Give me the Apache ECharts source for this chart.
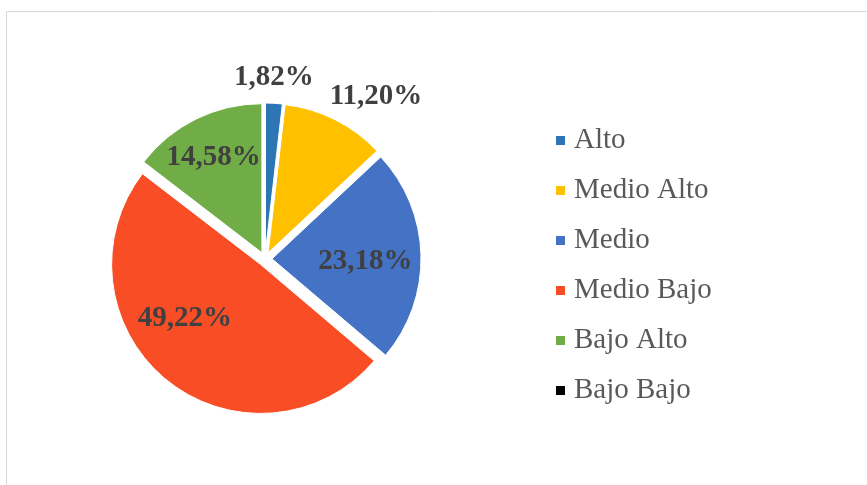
<!DOCTYPE html>
<html>
<head>
<meta charset="utf-8">
<script src="https://cdn.jsdelivr.net/npm/echarts@6/dist/echarts.min.js"></script>
<style>
  html, body { margin: 0; padding: 0; background: #fff; }
  #chart { width: 867px; height: 485px; }
</style>
</head>
<body>
<div id="chart"></div>
<script>
const categories = ['Alto', 'Medio Alto', 'Medio', 'Medio Bajo', 'Bajo Alto', 'Bajo Bajo']
const percents = [1.82, 11.20, 23.18, 49.22, 14.58, 0]
const colors = ['#2E75B6', '#FFC000', '#4472C4', '#F94D26', '#70AD47', '#000000']

// label nudges to mimic Excel's "best fit" placement
const labelOffsets = [[4, -97], [73, -87], [16, 5], [-27, -6], [-14, -26], [0, 0]]

const chart = echarts.init(document.getElementById('chart'))

const fmt = v => v.toFixed(2).replace('.', ',') + '%'

const option = {
  animation: false,
  graphic: [{
    type: 'rect',
    shape: { x: 6.5, y: 11.5, width: 900, height: 500 },
    style: { fill: 'none', stroke: '#d9d9d9', lineWidth: 1 },
    silent: true
  }],
  legend: {
    orient: 'vertical',
    left: 549,
    top: 121,
    icon: 'rect',
    itemWidth: 11,
    itemHeight: 11,
    itemGap: 21,
    data: categories,
    textStyle: {
      fontFamily: 'Liberation Serif',
      fontSize: 29,
      color: '#595959',
      padding: [0, 0, 0, 3]
    }
  },
  series: [{
    type: 'pie',
    center: [265, 259],
    radius: 149,
    startAngle: 90,
    selectedMode: 'multiple',
    selectedOffset: 7,
    emphasis: { disabled: true },
    itemStyle: { borderColor: '#fff', borderWidth: 1 },
    labelLine: { show: false },
    label: {
      position: 'inside',
      fontFamily: 'Liberation Serif',
      fontWeight: 'bold',
      fontSize: 29,
      color: '#404040',
      formatter: p => fmt(p.value)
    },
    labelLayout: p => ({ dx: labelOffsets[p.dataIndex][0], dy: labelOffsets[p.dataIndex][1] }),
    data: categories.map((name, i) => ({
      name,
      value: percents[i],
      selected: true,
      itemStyle: { color: colors[i] },
      label: { show: percents[i] > 0 }
    }))
  }]
}

chart.setOption(option)
</script>
</body>
</html>
